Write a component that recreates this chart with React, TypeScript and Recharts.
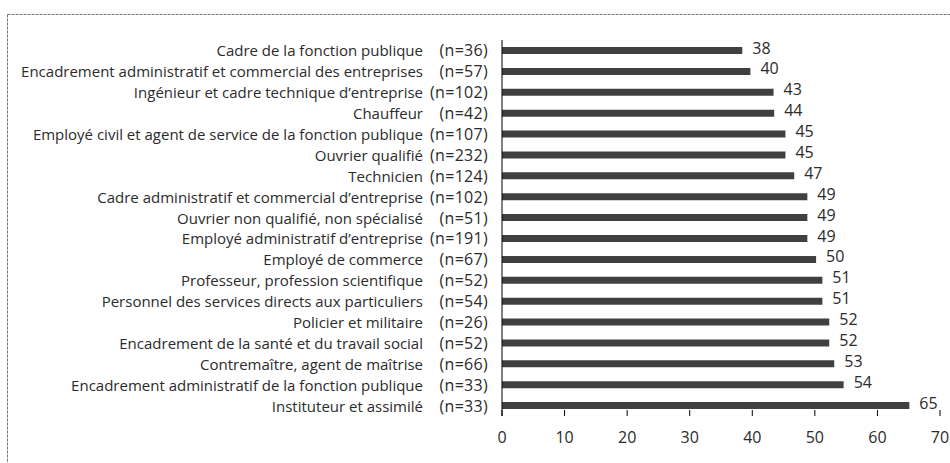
import { BarChart, Bar, XAxis, YAxis, LabelList } from 'recharts';

const categories = [
  'Cadre de la fonction publique',
  'Encadrement administratif et commercial des entreprises',
  'Ingénieur et cadre technique d’entreprise',
  'Chauffeur',
  'Employé civil et agent de service de la fonction publique',
  'Ouvrier qualifié',
  'Technicien',
  'Cadre administratif et commercial d’entreprise',
  'Ouvrier non qualifié, non spécialisé',
  'Employé administratif d’entreprise',
  'Employé de commerce',
  'Professeur, profession scientifique',
  'Personnel des services directs aux particuliers',
  'Policier et militaire',
  'Encadrement de la santé et du travail social',
  'Contremaître, agent de maîtrise',
  'Encadrement administratif de la fonction publique',
  'Instituteur et assimilé',
];

const sampleSizes = [36, 57, 102, 42, 107, 232, 124, 102, 51, 191, 67, 52, 54, 26, 52, 66, 33, 33];

// bar lengths
const values = [38.4, 39.7, 43.4, 43.5, 45.3, 45.3, 46.7, 48.8, 48.8, 48.8, 50.2, 51.2, 51.2, 52.3, 52.3, 53.1, 54.6, 65.1];

// numbers printed at the end of the bars
const valueLabels = [38, 40, 43, 44, 45, 45, 47, 49, 49, 49, 50, 51, 51, 52, 52, 53, 54, 65];

const xTicks = [0, 10, 20, 30, 40, 50, 60, 70];

const data = categories.map((name, i) => ({ name, value: values[i] }));

const FONT = '"Open Sans", sans-serif';
const TEXT = '#2b2b2b';

const CategoryTick = (props: any) => {
  const { x, y, payload } = props;
  const i = payload.index;
  return (
    <g>
      <text x={x - 79} y={y} textAnchor="end" dominantBaseline="central" fontSize={15} fontFamily={FONT} fill={TEXT}>
        {payload.value}
      </text>
      <text x={x - 14} y={y} textAnchor="end" dominantBaseline="central" fontSize={16} letterSpacing={0.3} fontFamily={FONT} fill={TEXT}>
        {`(n=${sampleSizes[i]})`}
      </text>
    </g>
  );
};

const ValueTick = (props: any) => {
  const { x, y, payload } = props;
  return (
    <g>
      <line x1={x} x2={x} y1={y - 6} y2={y} stroke="#000" />
      <text x={x} y={y + 21} textAnchor="middle" dominantBaseline="central" fontSize={16} fontFamily={FONT} fill={TEXT}>
        {payload.value}
      </text>
    </g>
  );
};

const BarValue = (props: any) => {
  const { x, y, width, height, index } = props;
  return (
    <text x={x + width + 10} y={y + height / 2 - 3} dominantBaseline="central" fontSize={16} fontFamily={FONT} fill={TEXT}>
      {valueLabels[index]}
    </text>
  );
};

export default function App() {
  return (
    <div style={{ position: 'absolute', left: 0, top: 0, width: 950, height: 463, background: '#fff', overflow: 'hidden' }}>
      <svg width={950} height={463} style={{ position: 'absolute', left: 0, top: 0 }}>
        <line x1={7.5} x2={950} y1={14.5} y2={14.5} stroke="#777" strokeDasharray="3 1" />
        <line x1={7.5} x2={7.5} y1={14.5} y2={463} stroke="#777" strokeDasharray="3 1" />
      </svg>
      <div style={{ position: 'absolute', left: 0, top: 0 }}>
        <BarChart
          width={950}
          height={463}
          data={data}
          layout="vertical"
          margin={{ top: 40, right: 10, bottom: 17, left: 0 }}
        >
          <XAxis
            type="number"
            domain={[0, 70]}
            ticks={xTicks}
            axisLine={false}
            tickLine={false}
            tickSize={0}
            tickMargin={0}
            height={30}
            tick={ValueTick}
            interval={0}
          />
          <YAxis
            type="category"
            dataKey="name"
            width={502}
            axisLine={{ stroke: '#000' }}
            tickLine={false}
            tickSize={0}
            tickMargin={0}
            tick={CategoryTick}
            interval={0}
          />
          <Bar dataKey="value" fill="#404040" barSize={7} isAnimationActive={false}>
            <LabelList dataKey="value" content={BarValue} />
          </Bar>
        </BarChart>
      </div>
    </div>
  );
}
